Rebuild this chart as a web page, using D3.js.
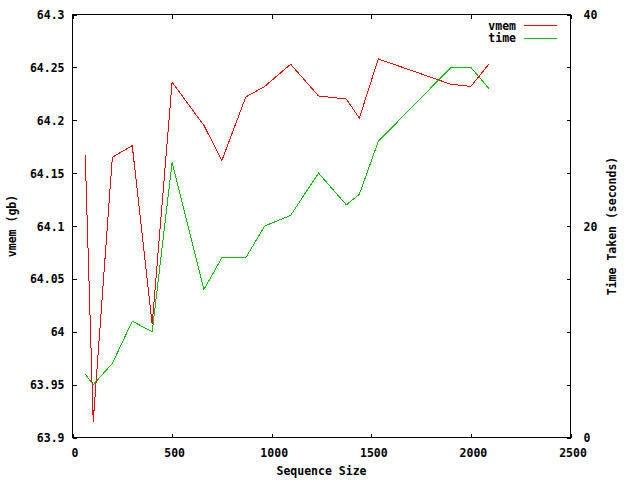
<!DOCTYPE html>
<html>
<head>
<meta charset="utf-8">
<script src="https://cdn.jsdelivr.net/npm/d3@7"></script>
<style>
  html, body { margin: 0; padding: 0; background: #fff; }
  svg { display: block; }
  text { font-family: "DejaVu Sans Mono", "Liberation Mono", monospace; font-weight: bold; font-size: 11.5px; fill: #000; }
</style>
</head>
<body>
<svg id="chart" width="640" height="480"></svg>
<script>
// ---- data ----
const seqSize = [64, 104, 200, 300, 400, 500, 660, 750, 870, 965, 1095, 1235, 1375, 1440, 1535, 1900, 2000, 2090];
const vmemGb  = [64.167, 63.915, 64.165, 64.176, 64.007, 64.236, 64.195, 64.162, 64.222, 64.232, 64.253, 64.223, 64.220, 64.202, 64.258, 64.234, 64.232, 64.253];
const timeSec = [6, 5, 7, 11, 10, 26, 14, 17, 17, 20, 21, 25, 22, 23, 28, 35, 35, 33];

const xTicks  = [0, 500, 1000, 1500, 2000, 2500];
const yTicks  = [63.9, 63.95, 64, 64.05, 64.1, 64.15, 64.2, 64.25, 64.3];
const y2Ticks = [0, 20, 40];

const seriesNames = ["vmem", "time"];
const seriesColors = ["#ff0000", "#00c000"];

// ---- layout ----
const L = 72.5, R = 570.5, T = 14.5, B = 437.5;
const svg = d3.select("#chart");
svg.append("rect").attr("width", 640).attr("height", 480).attr("fill", "#fff");

const x  = d3.scaleLinear().domain([0, 2500]).range([L, R]);
const y  = d3.scaleLinear().domain([63.9, 64.3]).range([B, T]);
const y2 = d3.scaleLinear().domain([0, 40]).range([B, T]);

const fmt = d => String(+d.toFixed(2));

// bottom axis (ticks inward)
const gx = svg.append("g").attr("transform", `translate(0,${B})`)
  .call(d3.axisBottom(x).tickValues(xTicks).tickSize(-4).tickSizeOuter(0).tickFormat(fmt));
gx.selectAll("text").attr("y", 15).attr("dy", "0.35em").attr("dx", 2);
// top mirror ticks
svg.append("g").attr("transform", `translate(0,${T})`)
  .call(d3.axisTop(x).tickValues(xTicks).tickSize(-4).tickSizeOuter(0).tickFormat(""));

// left axis
const gy = svg.append("g").attr("transform", `translate(${L},0)`)
  .call(d3.axisLeft(y).tickValues(yTicks).tickSize(-4).tickSizeOuter(0).tickFormat(fmt).tickPadding(8));
gy.selectAll("text").attr("dy", "0.35em");
// right mirror ticks of y
svg.append("g").attr("transform", `translate(${R},0)`)
  .call(d3.axisRight(y).tickValues(yTicks).tickSize(-4).tickSizeOuter(0).tickFormat(""));
// right y2 labels
const gy2 = svg.append("g").attr("transform", `translate(${R},0)`)
  .call(d3.axisRight(y2).tickValues(y2Ticks).tickSize(-4).tickSizeOuter(0).tickFormat(fmt).tickPadding(13));
gy2.selectAll("text").attr("dy", "0.35em");

svg.selectAll(".domain").remove();
svg.selectAll(".tick line").attr("stroke", "#000").attr("shape-rendering", "crispEdges");
svg.selectAll("g").attr("font-family", null).attr("font-size", null);

// border
svg.append("rect").attr("x", L).attr("y", T).attr("width", R - L).attr("height", B - T)
  .attr("fill", "none").attr("stroke", "#000").attr("shape-rendering", "crispEdges");

// lines
const idx = d3.range(seqSize.length);
const lineV = d3.line().x(i => x(seqSize[i])).y(i => y(vmemGb[i]));
const lineT = d3.line().x(i => x(seqSize[i])).y(i => y2(timeSec[i]));
svg.append("path").attr("d", lineT(idx)).attr("fill", "none").attr("stroke", seriesColors[1]).attr("stroke-width", 1).attr("shape-rendering", "crispEdges");
svg.append("path").attr("d", lineV(idx)).attr("fill", "none").attr("stroke", seriesColors[0]).attr("stroke-width", 1).attr("shape-rendering", "crispEdges");

// legend
seriesNames.forEach((name, i) => {
  const ly = 25.5 + i * 12.5;
  svg.append("text").attr("x", 516).attr("y", ly).attr("dy", "0.35em").attr("text-anchor", "end").text(name);
  svg.append("line").attr("x1", 524).attr("x2", 557).attr("y1", ly).attr("y2", ly)
    .attr("stroke", seriesColors[i]).attr("shape-rendering", "crispEdges");
});

// titles
svg.append("text").attr("x", (L + R) / 2).attr("y", 471).attr("dy", "0.35em").attr("text-anchor", "middle").text("Sequence Size");
svg.append("text").attr("transform", `translate(12,${(T + B) / 2}) rotate(-90)`).attr("dy", "0.35em").attr("text-anchor", "middle").text("vmem (gb)");
svg.append("text").attr("transform", `translate(612,${(T + B) / 2}) rotate(-90)`).attr("dy", "0.35em").attr("text-anchor", "middle").text("Time Taken (seconds)");
</script>
</body>
</html>
